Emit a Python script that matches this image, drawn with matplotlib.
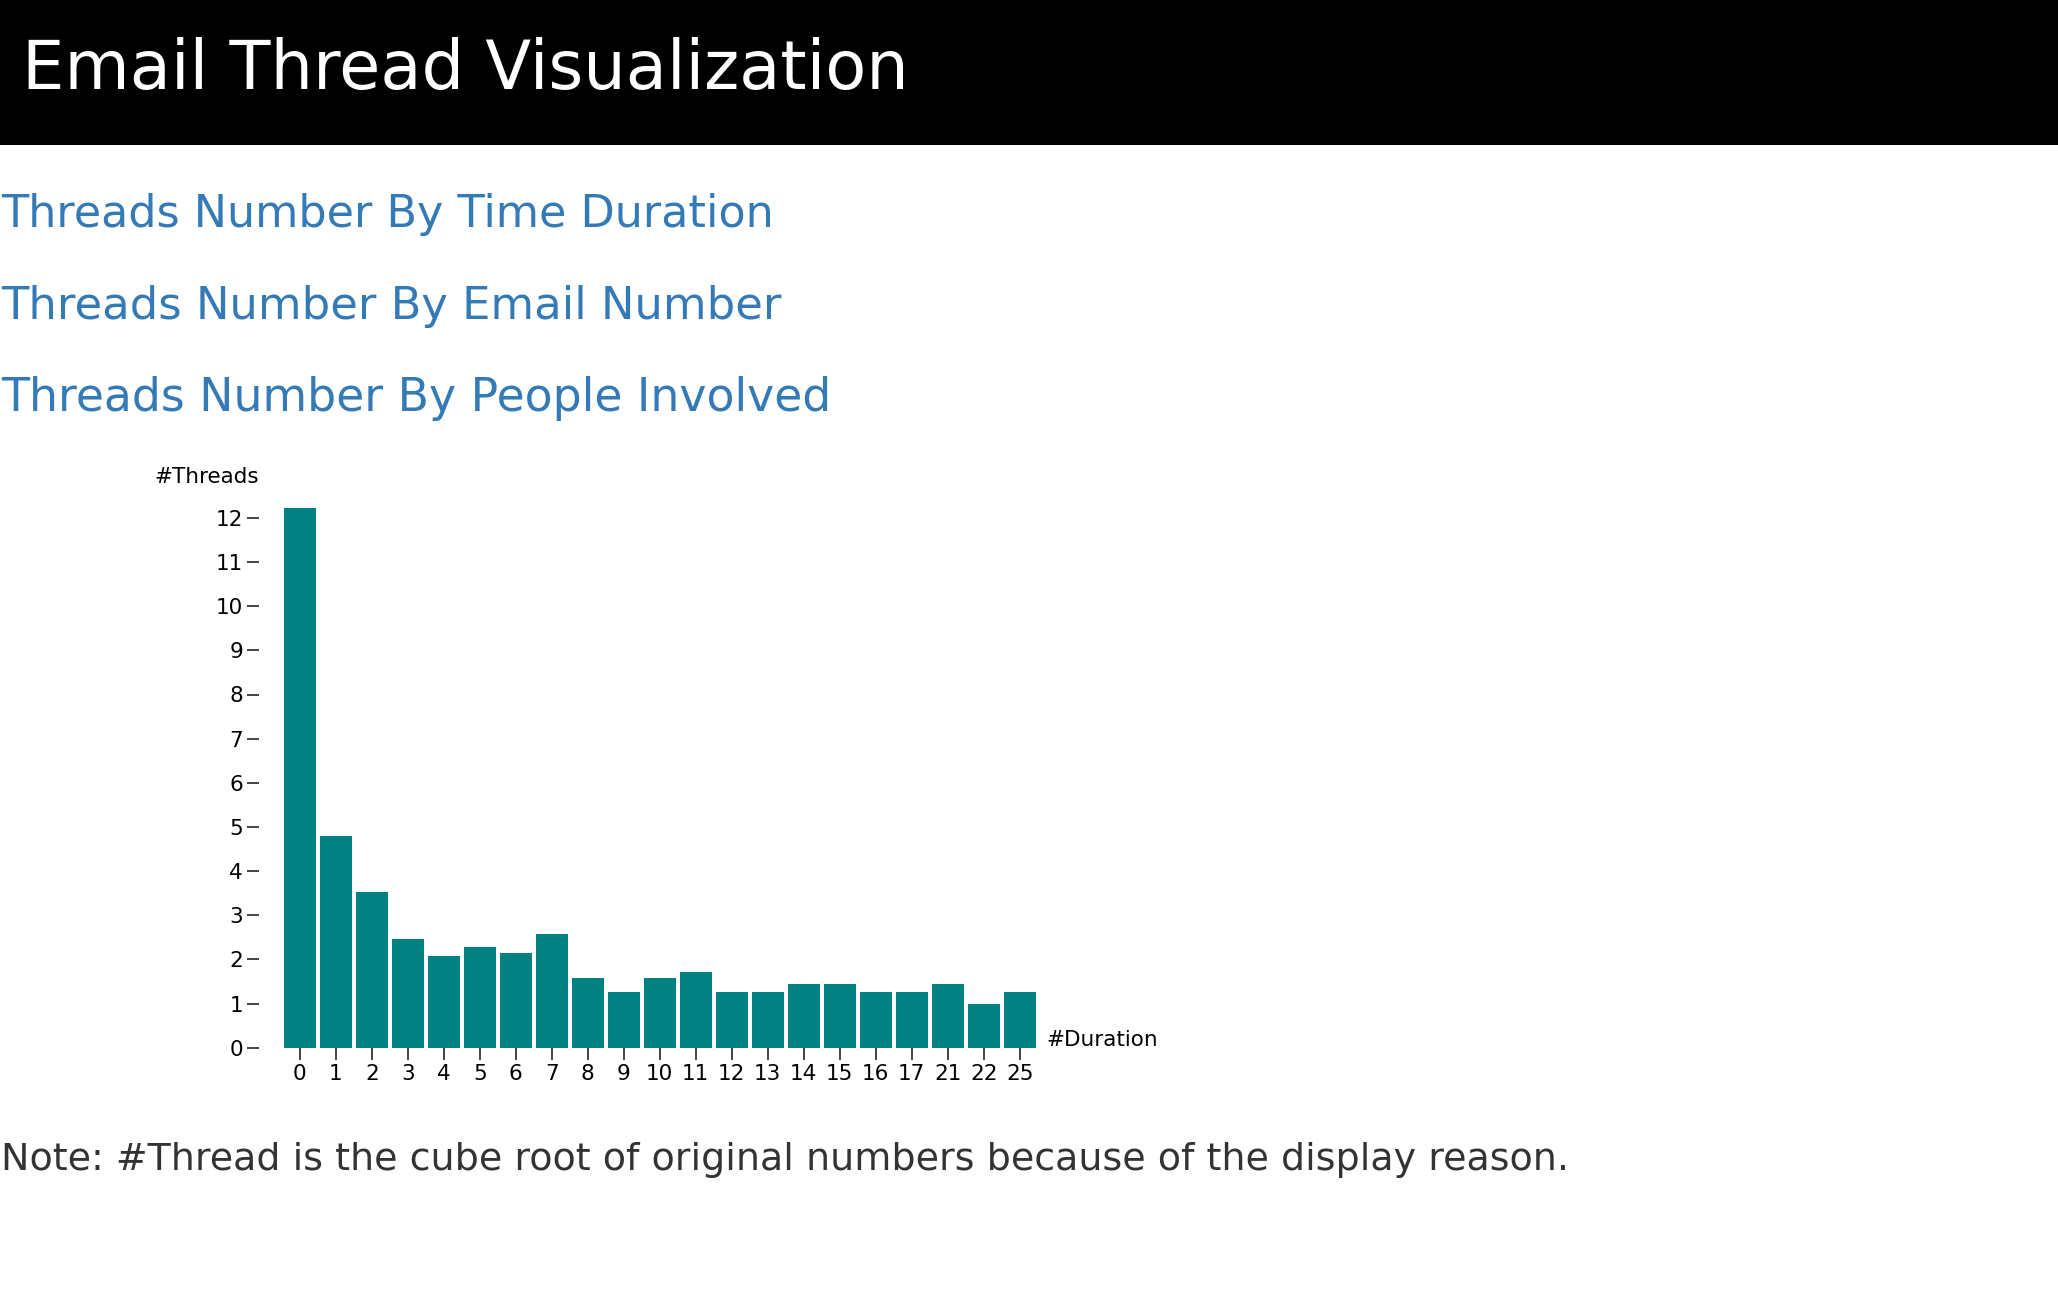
import matplotlib
matplotlib.use("Agg")
import matplotlib.pyplot as plt
from matplotlib.patches import Rectangle

# ---------------- data ----------------
durations = ['0', '1', '2', '3', '4', '5', '6', '7', '8', '9', '10', '11',
             '12', '13', '14', '15', '16', '17', '21', '22', '25']
threads_cuberoot = [12.23, 4.80, 3.53, 2.46, 2.08, 2.28, 2.15, 2.57, 1.58, 1.26,
                    1.58, 1.71, 1.26, 1.26, 1.44, 1.44, 1.26, 1.26, 1.44, 1.00, 1.26]
y_ticks = list(range(0, 13))

title_text = "Email Thread Visualization"
link_texts = ["Threads Number By Time Duration",
              "Threads Number By Email Number",
              "Threads Number By People Involved"]
note_text = "Note: #Thread is the cube root of original numbers because of the display reason."

# ---------------- layout (pixels) ----------------
W, H = 2058, 1316
DPI = 100
FONT = "DejaVu Sans"
plt.rcParams['font.family'] = [FONT]

fig = plt.figure(figsize=(W / DPI, H / DPI), dpi=DPI)
fig.patch.set_facecolor('white')

def fx(x):
    return x / W

def fy(y):
    return 1 - y / H

# header bar
fig.patches.append(Rectangle((0, fy(145)), 1, 145 / H, transform=fig.transFigure,
                             facecolor='black', edgecolor='none', zorder=0))

renderer = fig.canvas.get_renderer()

def fit(t, target_w):
    w = t.get_window_extent(renderer).width
    t.set_fontsize(t.get_fontsize() * target_w / w)

t = fig.text(fx(22), fy(89), title_text, color='white', fontsize=48,
             ha='left', va='baseline')
fit(t, 884)

link_color = '#337ab7'
link_baselines = [227, 319, 411]
link_widths = [772, 779, 830]
for txt, yb, wd in zip(link_texts, link_baselines, link_widths):
    t = fig.text(fx(1), fy(yb), txt, color=link_color, fontsize=26,
                 ha='left', va='baseline')
    fit(t, wd)

t = fig.text(fx(1), fy(1170), note_text, color='#333333', fontsize=22,
             ha='left', va='baseline')
fit(t, 1564)

# ---------------- chart ----------------
axis_x = 259.0          # y-axis position (px)
base_y = 1047.7         # zero line (px from top)
unit_px = 44.15         # px per y unit
x0_center = 299.8       # px center of first bar
step = 36.0             # px per band
right_px = 1040.0
top_px = 495.0

ax = fig.add_axes([fx(axis_x), fy(base_y), (right_px - axis_x) / W, (base_y - top_px) / H])
ax.set_xlim((axis_x - x0_center) / step, (right_px - x0_center) / step)
ax.set_ylim(0, (base_y - top_px) / unit_px)

xs = list(range(len(durations)))
ax.bar(xs, threads_cuberoot, width=0.88, color='#008080', edgecolor='none')

for s in ax.spines.values():
    s.set_visible(False)
ax.set_facecolor('none')

ax.set_xticks(xs)
ax.set_xticklabels(durations)
ax.set_yticks(y_ticks)
ax.set_yticklabels([str(v) for v in y_ticks])
ax.tick_params(axis='both', colors='#444444', labelcolor='black', labelsize=15.5,
               length=8.6, width=1.4, direction='out')
ax.tick_params(axis='y', pad=3.0)
ax.tick_params(axis='x', pad=3.2)

fig.text(fx(259), fy(483), "#Threads", color='black', fontsize=15.5,
         ha='right', va='baseline')
fig.text(fx(1046), fy(1046), "#Duration", color='black', fontsize=15.5,
         ha='left', va='baseline')

fig.savefig("out.png", dpi=DPI, facecolor='white')
